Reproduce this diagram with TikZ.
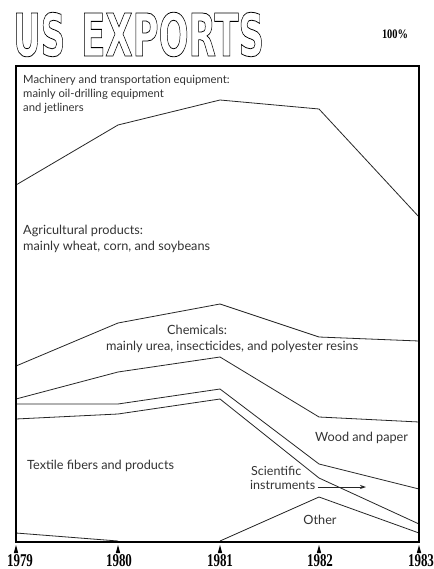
\documentclass[tikz,border=0pt]{standalone}
\usepackage{fontspec}
\usepackage{graphicx}
\setmainfont{Lato}
\newfontfamily\yearfont{Liberation Serif}
\newfontfamily\titlefont{DejaVu Sans}
\usetikzlibrary{arrows.meta}
\newcommand{\outlinetxt}[1]{\special{pdf:literal direct 1 Tr 0.8 w}#1\special{pdf:literal direct 0 Tr}}
\begin{document}
\begin{tikzpicture}[x=1pt,y=-1pt,
  lbl/.style={font=\fontsize{12.7}{15.7}\selectfont, text=black!80, inner sep=0pt, align=left, anchor=north west},
  series/.style={line width=0.8pt, draw=black!85, line join=round},
  frame/.style={line width=2.4pt, draw=black},
  yearlbl/.style={font=\yearfont\bfseries\fontsize{18}{18}\selectfont, inner sep=0pt, anchor=base},
  pointer/.style={line width=0.8pt, draw=black!85, -{Stealth[length=6pt,width=4pt]}}]
\useasboundingbox (0,0) rectangle (433,569);
\fill[white] (0,0) rectangle (433,569);
% title
\node[anchor=base west, inner sep=0pt] (title) at (13,56)
  {\titlefont\bfseries\fontsize{59}{60}\selectfont\outlinetxt{\scalebox{0.575}[1]{US}\hspace{16pt}\scalebox{0.6}[1]{EXPORTS}}};
\node[anchor=base, inner sep=0pt, font=\yearfont\bfseries\fontsize{13}{13}\selectfont] (pct) at (395,39) {\scalebox{0.8}[1]{100\%}};
% series lines
\draw[series] (16,185) -- (118,125) -- (220,100) -- (319,109) -- (419,217);
\draw[series] (16,366) -- (118,323) -- (220,304) -- (319,337) -- (419,341);
\draw[series] (16,399) -- (118,372) -- (220,357) -- (319,417) -- (419,422);
\draw[series] (16,404) -- (118,404) -- (220,389) -- (319,464) -- (419,489);
\draw[series] (16,419) -- (118,414) -- (220,399) -- (319,478) -- (419,524);
\draw[series] (220,541) -- (319,497) -- (419,533);
\draw[series] (16,533) -- (118,541);
% frame
\draw[frame] (16,66) rectangle (419,542);
% ticks and years
\foreach \x/\lx/\yr in {16/20/1979,118/119/1980,220/220/1981,319/320/1982,419/421/1983}{
  \fill[black] (\x-2.2,553) -- (\x,545) -- (\x+2.2,553) -- cycle;
  \node[yearlbl] (y\yr) at (\lx,566.5) {\scalebox{0.72}[1]{\yr}};
}
% labels
\node[lbl, font=\fontsize{11.3}{13.8}\selectfont] (mach) at (23,75) {Machinery and transportation equipment:\\mainly oil-drilling equipment\\and jetliners};
\node[lbl] (agri) at (23,225) {Agricultural products:\\mainly wheat, corn, and soybeans};
\node[lbl] (chem) at (106,325) {\hspace*{61pt}Chemicals:\\mainly urea, insecticides, and polyester resins};
\node[lbl] (tex) at (27,460) {Textile fibers and products};
\node[lbl] (wood) at (315,432) {Wood and paper};
\node[lbl, font=\fontsize{12.5}{14}\selectfont] (sci) at (251,466) {Scientific};
\node[lbl, font=\fontsize{12.5}{14}\selectfont, inner sep=2.5pt] (instr) at (247.5,477.5) {instruments};
\coordinate (arrowend) at (366,487);
\draw[pointer] (instr.east |- arrowend) -- (arrowend);
\node[lbl, anchor=center] (other) at (320,520) {Other};
\end{tikzpicture}
\end{document}
